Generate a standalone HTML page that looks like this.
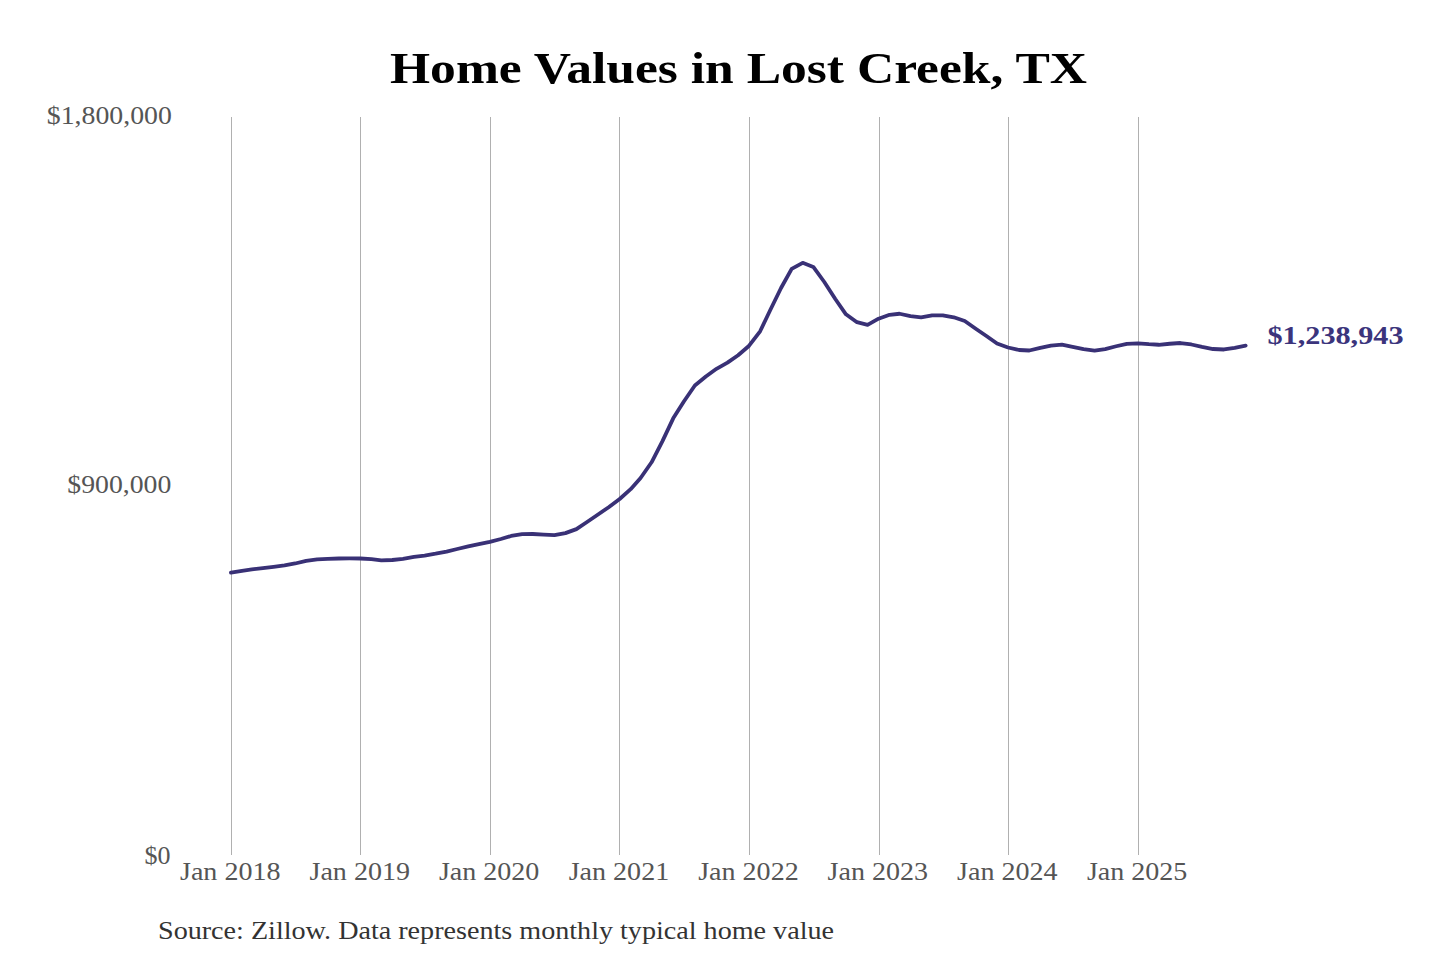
<!DOCTYPE html>
<html><head><meta charset="utf-8"><style>
html,body{margin:0;padding:0;background:#fff;}
svg{display:block;}
</style></head><body>
<svg width="1440" height="960" viewBox="0 0 1440 960">
<rect width="1440" height="960" fill="#fff"/>
<g font-family="Liberation Serif" font-weight="bold" fill="#000">
<text x="390" y="83" font-size="45" textLength="697" lengthAdjust="spacingAndGlyphs">Home Values in Lost Creek, TX</text>
</g>
<g fill="#b0b0b0">
<rect x="231" y="117" width="1" height="738"/>
<rect x="360" y="117" width="1" height="738"/>
<rect x="490" y="117" width="1" height="738"/>
<rect x="619" y="117" width="1" height="738"/>
<rect x="749" y="117" width="1" height="738"/>
<rect x="879" y="117" width="1" height="738"/>
<rect x="1008" y="117" width="1" height="738"/>
<rect x="1138" y="117" width="1" height="738"/>
</g>
<g font-family="Liberation Serif" fill="#555">
<text x="46.8" y="124.3" font-size="26" textLength="125" lengthAdjust="spacingAndGlyphs">$1,800,000</text>
<text x="67.3" y="492.7" font-size="26" textLength="104" lengthAdjust="spacingAndGlyphs">$900,000</text>
<text x="144.5" y="864" font-size="26" textLength="26" lengthAdjust="spacingAndGlyphs">$0</text>
<text x="180.0" y="880" font-size="26" textLength="100.5" lengthAdjust="spacingAndGlyphs">Jan 2018</text>
<text x="309.5" y="880" font-size="26" textLength="100.5" lengthAdjust="spacingAndGlyphs">Jan 2019</text>
<text x="438.9" y="880" font-size="26" textLength="100.5" lengthAdjust="spacingAndGlyphs">Jan 2020</text>
<text x="568.7" y="880" font-size="26" textLength="100.5" lengthAdjust="spacingAndGlyphs">Jan 2021</text>
<text x="698.2" y="880" font-size="26" textLength="100.5" lengthAdjust="spacingAndGlyphs">Jan 2022</text>
<text x="827.6" y="880" font-size="26" textLength="100.5" lengthAdjust="spacingAndGlyphs">Jan 2023</text>
<text x="957.1" y="880" font-size="26" textLength="100.5" lengthAdjust="spacingAndGlyphs">Jan 2024</text>
<text x="1086.9" y="880" font-size="26" textLength="100.5" lengthAdjust="spacingAndGlyphs">Jan 2025</text>
</g>
<path d="M230.95,572.58 L241.94,570.77 L251.87,569.39 L262.87,568.07 L273.51,566.79 L284.50,565.44 L295.14,563.49 L306.14,560.95 L317.13,559.47 L327.77,558.80 L338.77,558.52 L349.41,558.40 L360.40,558.50 L371.39,559.15 L381.33,560.47 L392.32,560.01 L402.96,558.83 L413.96,556.94 L424.60,555.56 L435.59,553.72 L446.58,551.59 L457.22,548.99 L468.22,546.43 L478.86,544.20 L489.85,541.90 L500.85,539.02 L511.13,535.98 L522.13,534.08 L532.77,534.00 L543.76,534.60 L554.40,535.22 L565.40,533.11 L576.39,529.15 L587.03,522.00 L598.03,514.50 L608.67,507.20 L619.66,499.00 L630.66,489.20 L640.59,478.00 L651.58,462.26 L662.22,441.62 L673.22,418.36 L683.86,401.50 L694.85,385.46 L705.85,376.50 L716.49,368.80 L727.48,362.60 L738.12,355.20 L749.12,345.70 L760.11,331.30 L770.04,310.50 L781.04,288.00 L791.68,268.80 L802.67,262.80 L813.31,266.90 L824.31,282.00 L835.30,299.00 L845.94,314.30 L856.94,322.20 L867.58,324.80 L878.57,318.70 L889.57,314.81 L899.50,313.76 L910.49,316.18 L921.13,317.39 L932.13,315.30 L942.77,315.32 L953.76,317.30 L964.76,321.07 L975.40,328.57 L986.39,335.96 L997.03,343.47 L1008.03,347.49 L1019.02,349.98 L1029.31,350.48 L1040.30,347.93 L1050.94,345.60 L1061.94,344.62 L1072.58,346.81 L1083.57,349.20 L1094.57,350.69 L1105.21,349.06 L1116.20,346.27 L1126.84,343.79 L1137.84,343.30 L1148.83,344.19 L1158.76,344.77 L1169.76,343.74 L1180.40,343.01 L1191.39,344.48 L1202.03,346.89 L1213.03,349.01 L1224.02,349.48 L1234.66,347.76 L1245.66,345.67" fill="none" stroke="#393176" stroke-width="3.8" stroke-linejoin="round" stroke-linecap="round"/>
<g font-family="Liberation Serif" font-weight="bold" fill="#3b347c">
<text x="1267.5" y="343.5" font-size="25.5" textLength="136" lengthAdjust="spacingAndGlyphs">$1,238,943</text>
</g>
<g font-family="Liberation Serif" fill="#333">
<text x="158" y="939" font-size="26" textLength="676" lengthAdjust="spacingAndGlyphs">Source: Zillow. Data represents monthly typical home value</text>
</g>
</svg>
</body></html>
